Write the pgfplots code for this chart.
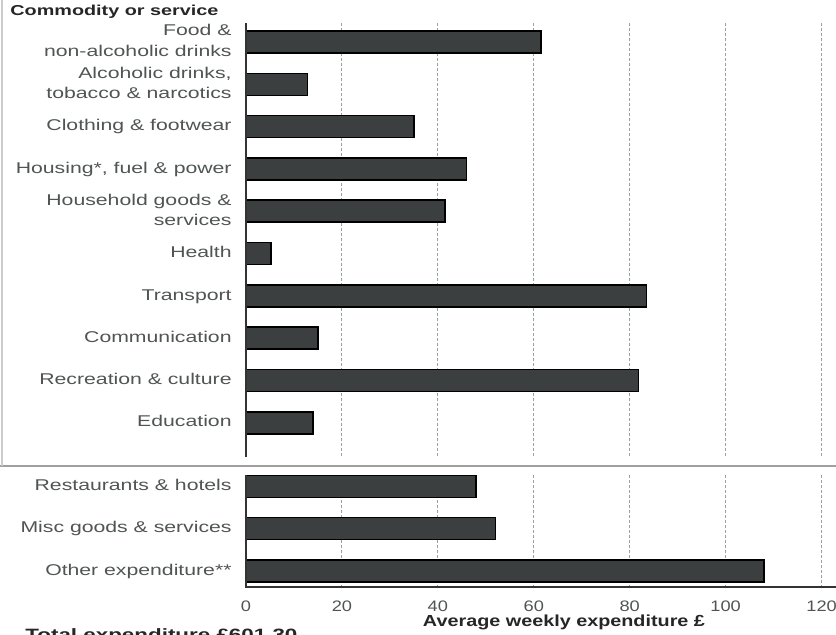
\documentclass[border=0pt]{standalone}
\usepackage{fontspec}
\setmainfont{Liberation Sans}
\usepackage{graphicx}
\usepackage{pgfplots}
\pgfplotsset{compat=1.18}

% category labels: right-aligned, set a little wide
\newcommand{\lab}[1]{\scalebox{1.36}[1]{\begin{tabular}{@{}r@{}}#1\end{tabular}}}
\newcommand{\nm}[1]{\scalebox{1.2}[1]{#1}}
\definecolor{barfill}{HTML}{3C3F3F}
\definecolor{labelgray}{HTML}{505454}
\definecolor{gridgray}{HTML}{9AA0A0}

\begin{document}
\begin{tikzpicture}
\path[use as bounding box] (0,0) rectangle (418pt,-317pt);
\begin{axis}[
  at={(123pt,-293.5pt)}, anchor=south west,
  scale only axis, width=295pt, height=282pt,
  xmin=0, xmax=123, ymin=-0.38, ymax=12.95,
  axis line style={draw=none},
  major tick length=0pt,
  xtick={0,20,...,120},
  xticklabels={\nm{0},\nm{20},\nm{40},\nm{60},\nm{80},\nm{100},\nm{120}},
  xticklabel style={font=\fontsize{7.6}{9}\selectfont, text=labelgray,
    anchor=north, inner sep=0pt, yshift=-6.8pt},
  ytick={0,1,2,3.5,4.5,5.5,6.5,7.5,8.5,9.5,10.5,11.5,12.5},
  yticklabels={
    {\lab{Other expenditure**}},
    {\lab{Misc goods \& services}},
    {\lab{Restaurants \& hotels}},
    {\lab{Education}},
    {\lab{Recreation \& culture}},
    {\lab{Communication}},
    {\lab{Transport}},
    {\lab{Health}},
    {\lab{Household goods \&\\services}},
    {\lab{Housing*, fuel \& power}},
    {\lab{Clothing \& footwear}},
    {\lab{Alcoholic drinks,\\tobacco \& narcotics}},
    {\lab{Food \&\\non-alcoholic drinks}}},
  yticklabel style={font=\fontsize{7.8}{10.3}\selectfont, text=labelgray,
    anchor=east, inner sep=0pt, xshift=-7pt},
  xbar, bar width=11pt,
  clip=false,
]
% grid lines, broken between the two panels
\pgfplotsinvokeforeach{20,40,60,80,100,120}{
  \draw[gridgray, line width=0.5pt, dash pattern=on 1.5pt off 1pt]
    (axis cs:#1,12.95) -- (axis cs:#1,2.69);
  \draw[gridgray, line width=0.5pt, dash pattern=on 1.5pt off 1pt]
    (axis cs:#1,2.26) -- (axis cs:#1,-0.38);
}
\addplot[fill=barfill, draw=black, line width=0.8pt] coordinates {
  (108,0) (52,1) (48,2)
  (14,3.5) (81.8,4.5) (15,5.5) (83.5,6.5) (5.2,7.5)
  (41.5,8.5) (46,9.5) (35,10.5) (12.8,11.5) (61.5,12.5)};
% axis lines
\draw[black!80, line width=1pt] (axis cs:0,12.95) -- (axis cs:0,2.69);
\draw[black!80, line width=1pt] (axis cs:0,2.26) -- (axis cs:0,-0.38) -- (axis cs:123,-0.38);
\end{axis}
% panel separator and page edge
\draw[gray!75, line width=1pt] (0,-233pt) -- (418pt,-233pt);
\draw[gray!40, line width=0.8pt] (1pt,0) -- (1pt,-233pt);
% titles
\node[anchor=base west, inner sep=0pt, text=black!85] at (5pt,-7.5pt)
  {\resizebox{104pt}{\height}{\fontsize{7.2}{8}\selectfont\bfseries Commodity or service}};
\node[anchor=base, inner sep=0pt, text=black!85] at (282pt,-313.3pt)
  {\resizebox{141pt}{\height}{\fontsize{8}{9}\selectfont\bfseries Average weekly expenditure £}};
\node[anchor=base west, inner sep=0pt, text=black!85] at (12.5pt,-320pt)
  {\resizebox{136pt}{\height}{\fontsize{8.2}{9}\selectfont\bfseries Total expenditure £601.30}};
\end{tikzpicture}
\end{document}
